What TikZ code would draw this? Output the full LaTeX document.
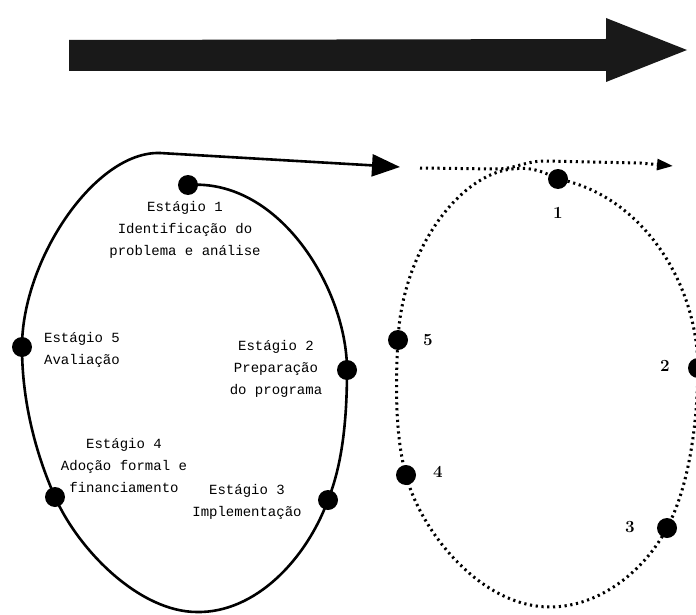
\documentclass[tikz,border=0pt]{standalone}
\usepackage{fontspec}
\newfontfamily\labelfont{Liberation Mono}
\usetikzlibrary{arrows.meta}
\tikzset{
 dot/.style={circle,fill=black,minimum size=20pt,inner sep=0pt},
 stagetext/.style={align=center,inner sep=0pt,font=\labelfont\fontsize{14}{22}\selectfont},
 numtext/.style={inner sep=0pt,font=\bfseries\fontsize{17}{18}\selectfont},
 solidloop/.style={line width=2.6pt,line cap=round},
 dotloop/.style={line width=3pt,dash pattern=on 2.2pt off 3.6pt},
}
\begin{document}
\begin{tikzpicture}[x=1pt,y=-1pt]
\useasboundingbox (0,0) rectangle (696,615);
% big arrow at the top
\fill[black!90] (69,40) -- (606,39) -- (606,18) -- (687,50) -- (606,82) -- (606,71) -- (69,71) -- cycle;

% left cycle (solid)
\node[dot] (s1) at (188,185) {};
\node[dot] (s2) at (347,370) {};
\node[dot] (s3) at (328,500) {};
\node[dot] (s4) at (55,497) {};
\node[dot] (s5) at (22,347) {};
\coordinate (lbot) at (197,612);
\coordinate (ltop) at (160,153);
\coordinate (aend) at (400,167);
\draw[solidloop] (s1.center) .. controls (280,178) and (347,290) .. (s2.center)
  .. controls (347,430) and (340,470) .. (s3.center)
  .. controls (306,560) and (255,613) .. (lbot)
  .. controls (140,612) and (79,551) .. (s4.center)
  .. controls (35,452) and (22,400) .. (s5.center)
  .. controls (22,260) and (95,151) .. (ltop);
\draw[solidloop,-{Triangle[length=28pt,width=22pt]}] (ltop) -- (aend);

\node[stagetext] (t1) at (185,230) {Estágio 1\\Identificação do\\problema e análise};
\node[stagetext] (t5) at (82,350) {Estágio 5\\Avaliação};
\node[stagetext] (t2) at (276,369) {Estágio 2\\Preparação\\do programa};
\node[stagetext] (t4) at (124,465) {Estágio 4\\Adoção formal e\\financiamento};
\node[stagetext] (t3) at (247,502) {Estágio 3\\Implementação};

% right cycle (dotted)
\node[dot] (r1) at (558,179) {};
\node[dot] (r2) at (698,368) {};
\node[dot] (r3) at (667,528) {};
\node[dot] (r4) at (406,475) {};
\node[dot] (r5) at (398,340) {};
\coordinate (rtop) at (512,169);
\coordinate (rbot) at (550,607);
\draw[dotloop] (r1.center) .. controls (540,170) and (530,167) .. (rtop)
  .. controls (460,174) and (402,250) .. (r5.center)
  .. controls (395,390) and (396,440) .. (r4.center)
  .. controls (420,530) and (480,607) .. (rbot)
  .. controls (600,607) and (645,570) .. (r3.center)
  .. controls (685,494) and (697,440) .. (r2.center)
  .. controls (697,280) and (640,195) .. (r1.center);
\coordinate (dstart) at (420,168);
\coordinate (dend) at (673,166);
\draw[dotloop,-{Triangle[length=16pt,width=11pt]}] (dstart) -- (497,169) .. controls (515,169) and (525,161) .. (545,161) -- (640,163) -- (dend);

\node[numtext] (n1) at (558,213) {1};
\node[numtext] (n2) at (665,366) {2};
\node[numtext] (n3) at (630,527) {3};
\node[numtext] (n4) at (438,472) {4};
\node[numtext] (n5) at (428,340) {5};
\end{tikzpicture}
\end{document}
